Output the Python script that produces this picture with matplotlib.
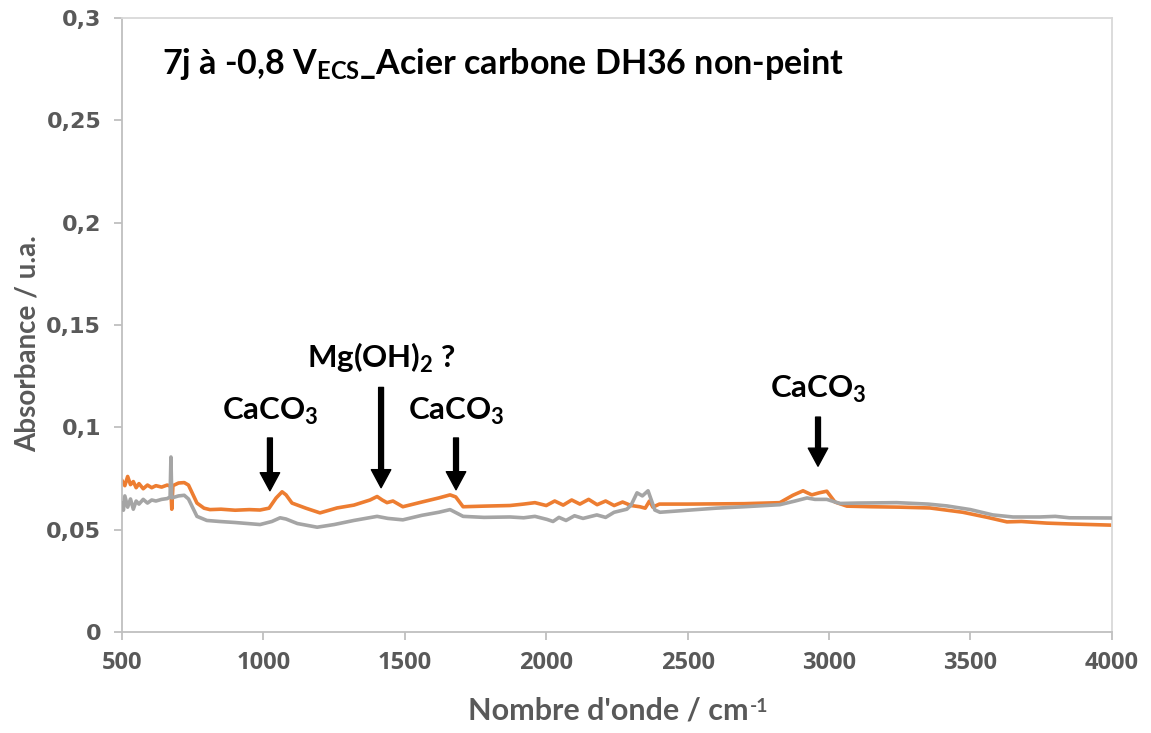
import matplotlib
matplotlib.use('Agg')
import matplotlib.pyplot as plt
from matplotlib.font_manager import FontProperties

plt.rcParams['mathtext.fontset'] = 'custom'
plt.rcParams['mathtext.rm'] = 'Lato:bold'

# spectre orange (échantillon)
ox = [500, 510, 520, 530, 540, 550, 560, 575, 590, 605, 620, 640, 660, 672, 676, 680,
      700, 720, 735, 765, 790, 811, 850, 900, 950, 988, 1020, 1045, 1066, 1080, 1101,
      1150, 1200, 1260, 1320, 1377, 1402, 1420, 1437, 1458, 1493, 1560, 1620, 1660,
      1680, 1706, 1780, 1872, 1920, 1960, 2000, 2030, 2060, 2090, 2119, 2150, 2180,
      2210, 2240, 2270, 2300, 2331, 2350, 2365, 2377, 2400, 2500, 2600, 2700, 2826,
      2872, 2908, 2939, 2965, 2992, 3021, 3063, 3150, 3250, 3357, 3473, 3560, 3629,
      3680, 3770, 3850, 3900, 4000]
oy = [0.0740, 0.0715, 0.0760, 0.0720, 0.0735, 0.0705, 0.0725, 0.0700, 0.0718, 0.0705,
      0.0715, 0.0708, 0.0718, 0.0712, 0.0600, 0.0715, 0.0728, 0.0730, 0.0718, 0.0630,
      0.0605, 0.0598, 0.0600, 0.0595, 0.0598, 0.0596, 0.0605, 0.0655, 0.0685, 0.0670,
      0.0630, 0.0605, 0.0582, 0.0606, 0.0620, 0.0645, 0.0662, 0.0645, 0.0632, 0.0640,
      0.0612, 0.0635, 0.0655, 0.0670, 0.0660, 0.0612, 0.0615, 0.0618, 0.0625, 0.0632,
      0.0618, 0.0640, 0.0620, 0.0645, 0.0625, 0.0648, 0.0622, 0.0640, 0.0618, 0.0635,
      0.0618, 0.0612, 0.0605, 0.0640, 0.0610, 0.0625, 0.0625, 0.0626, 0.0627, 0.0632,
      0.0668, 0.0690, 0.0670, 0.0680, 0.0688, 0.0635, 0.0615, 0.0612, 0.0610, 0.0606,
      0.0585, 0.0560, 0.0538, 0.0540, 0.0532, 0.0528, 0.0526, 0.0522]

# spectre gris (référence)
gx = [500, 505, 510, 520, 530, 540, 550, 560, 575, 590, 605, 620, 640, 660, 670, 673,
      676, 700, 720, 735, 765, 800, 845, 900, 988, 1030, 1059, 1080, 1120, 1190, 1250,
      1320, 1402, 1440, 1493, 1560, 1620, 1660, 1706, 1780, 1872, 1920, 1960, 2003,
      2024, 2045, 2070, 2100, 2130, 2179, 2210, 2240, 2285, 2300, 2321, 2340, 2360,
      2384, 2402, 2500, 2600, 2700, 2826, 2880, 2922, 2950, 2992, 3038, 3100, 3240,
      3350, 3417, 3500, 3579, 3650, 3745, 3800, 3850, 4000]
gy = [0.0630, 0.0595, 0.0665, 0.0610, 0.0650, 0.0600, 0.0640, 0.0625, 0.0648, 0.0630,
      0.0645, 0.0640, 0.0648, 0.0652, 0.0660, 0.0855, 0.0655, 0.0665, 0.0668, 0.0650,
      0.0565, 0.0545, 0.0540, 0.0535, 0.0525, 0.0540, 0.0558, 0.0552, 0.0530, 0.0512,
      0.0525, 0.0545, 0.0565, 0.0555, 0.0548, 0.0570, 0.0585, 0.0598, 0.0565, 0.0560,
      0.0562, 0.0558, 0.0565, 0.0550, 0.0540, 0.0560, 0.0545, 0.0568, 0.0555, 0.0572,
      0.0560, 0.0585, 0.0600, 0.0620, 0.0680, 0.0665, 0.0690, 0.0596, 0.0585, 0.0595,
      0.0605, 0.0612, 0.0622, 0.0640, 0.0655, 0.0648, 0.0648, 0.0628, 0.0630, 0.0632,
      0.0625, 0.0616, 0.0598, 0.0572, 0.0562, 0.0562, 0.0565, 0.0558, 0.0557]

xticks = [500, 1000, 1500, 2000, 2500, 3000, 3500, 4000]
yticks = [0, 0.05, 0.1, 0.15, 0.2, 0.25, 0.3]
ylabels = ['0', '0,05', '0,1', '0,15', '0,2', '0,25', '0,3']

# annotations : texte, x flèche, y queue, y pointe, y texte
ann_txt = ['CaCO$_\\mathregular{3}$', 'Mg(OH)$_\\mathregular{2}$ ?', 'CaCO$_\\mathregular{3}$', 'CaCO$_\\mathregular{3}$']
ann_x = [1023, 1416, 1681, 2961]
ann_tail = [0.0948, 0.1195, 0.0948, 0.1050]
ann_head = [0.0690, 0.0705, 0.0695, 0.0810]
ann_ty = [0.108, 0.134, 0.108, 0.1185]

fig = plt.figure(figsize=(11.51, 7.33), dpi=100)
ax = fig.add_axes([0.106, 0.1378, 0.86, 0.8376])

ax.plot(ox, oy, color='#ED7D31', lw=2.6, zorder=2)
ax.plot(gx, gy, color='#A5A5A5', lw=2.6, zorder=3)

ax.set_xlim(500, 4000)
ax.set_ylim(0, 0.3)
ax.set_xticks(xticks)
ax.set_xticklabels([str(t) for t in xticks])
ax.set_yticks(yticks)
ax.set_yticklabels(ylabels)

for lab in ax.get_xticklabels():
    lab.set_fontproperties(FontProperties(family='Open Sans', weight='bold', size=17))
for lab in ax.get_yticklabels():
    lab.set_fontproperties(FontProperties(family='DejaVu Sans', weight='bold', size=16))
ax.tick_params(axis='both', colors='#bfbfbf', length=6, width=1.3, labelcolor='#595959')
ax.tick_params(axis='x', pad=8)
ax.tick_params(axis='y', pad=9)

for s in ['left', 'bottom']:
    ax.spines[s].set_color('#bfbfbf')
    ax.spines[s].set_linewidth(1.3)
for s in ['top', 'right']:
    ax.spines[s].set_color('#d9d9d9')
    ax.spines[s].set_linewidth(1.3)

xl = ax.set_xlabel("Nombre d'onde / cm", family='Lato', weight='bold',
                   size=22, color='#595959')
ax.xaxis.set_label_coords(0.491, -0.105)
ax.set_ylabel('Absorbance / u.a.', family='Lato', weight='bold', size=20,
              color='#595959')
ax.yaxis.set_label_coords(-0.082, 0.47)

# exposant du label x
fig.canvas.draw()
bb = xl.get_window_extent()
fig.text(bb.x1 / fig.bbox.width + 0.001, bb.y1 / fig.bbox.height - 0.002, '-1',
         family='Lato', weight='bold', size=14, color='#595959', va='top', ha='left')

ax.text(0.04, 0.925, '7j à -0,8 V$_\\mathregular{ECS}$_Acier carbone DH36 non-peint',
        transform=ax.transAxes, family='Lato', weight='bold', size=24.5,
        color='black', va='center', ha='left')

for t, x, yt, yh, ty in zip(ann_txt, ann_x, ann_tail, ann_head, ann_ty):
    ax.annotate('', xy=(x, yh), xytext=(x, yt),
                arrowprops=dict(facecolor='black', edgecolor='black', width=3.5,
                                headwidth=14, headlength=13, shrink=0))
    ax.text(x, ty, t, family='Lato', weight='bold', size=22.5, color='black',
            ha='center', va='center')

fig.savefig('out.png', dpi=100)
